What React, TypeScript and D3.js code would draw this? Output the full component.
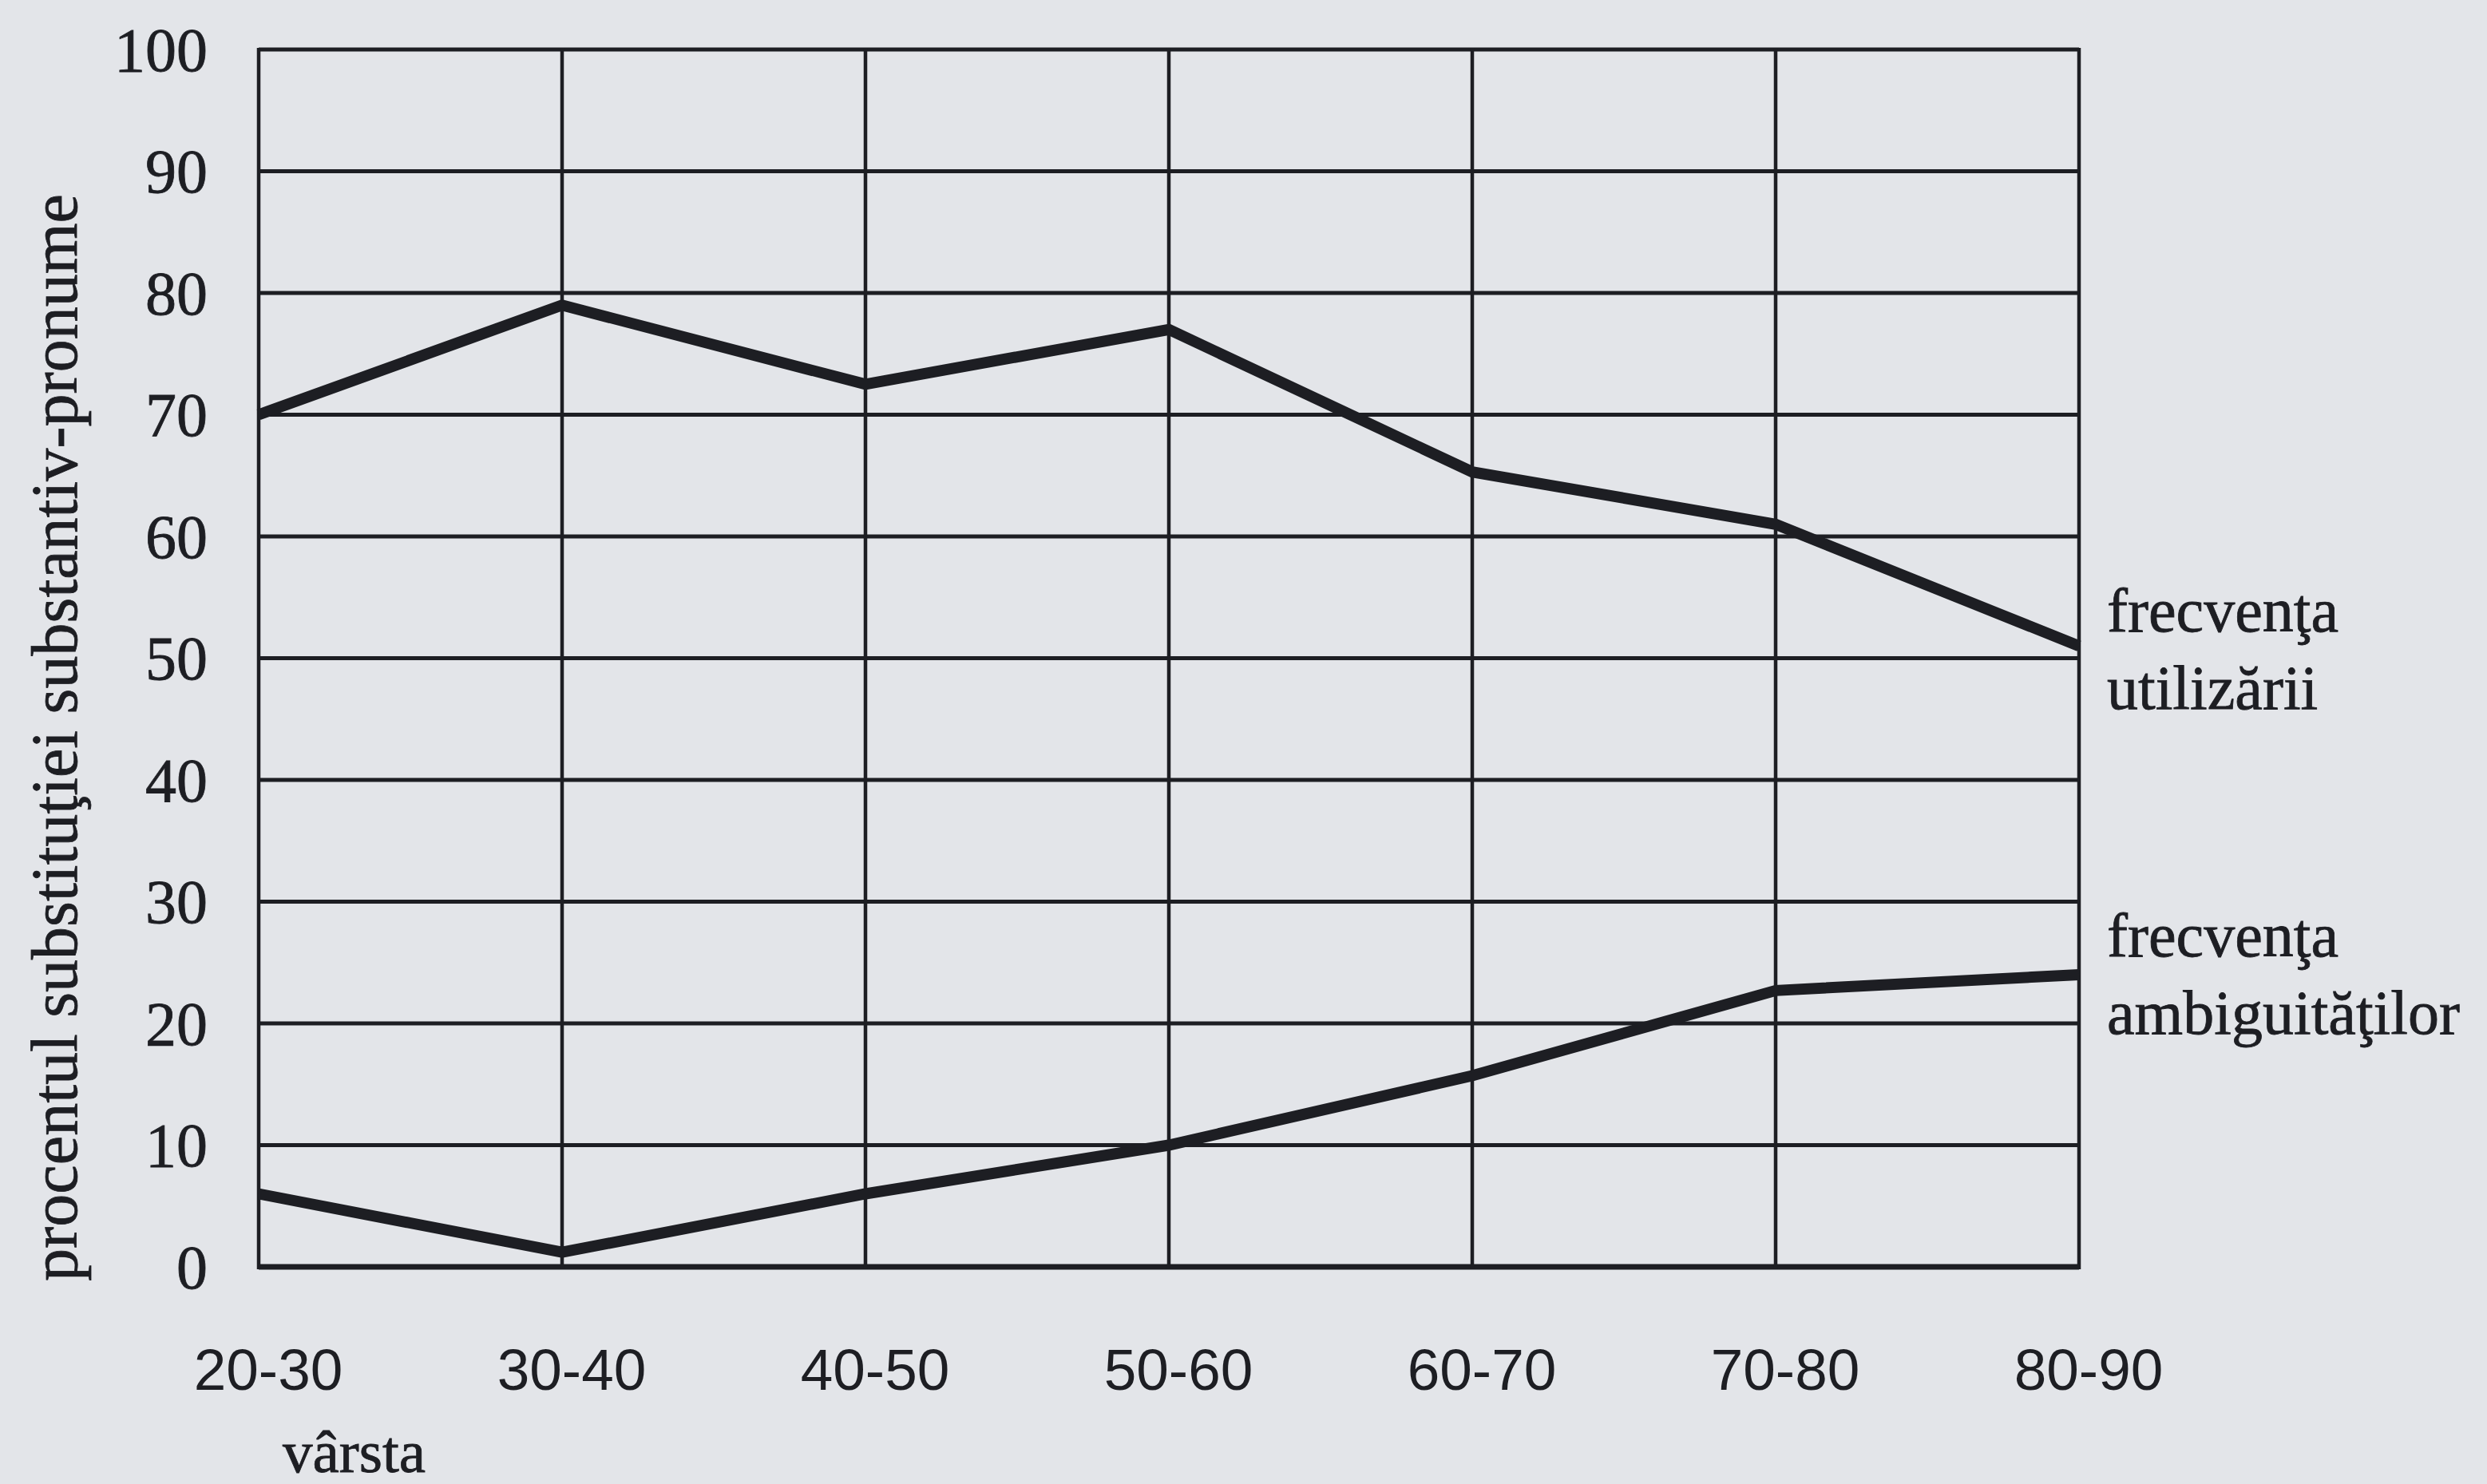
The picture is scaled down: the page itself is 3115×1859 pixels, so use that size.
import React from "react";
import * as d3 from "d3";

const categories = ["20-30", "30-40", "40-50", "50-60", "60-70", "70-80", "80-90"];
const utilizare = [70, 79, 72.5, 77, 65.3, 61, 51];
const ambiguitati = [6, 1.2, 6, 10, 15.7, 22.7, 24];
const yTicks = [0, 10, 20, 30, 40, 50, 60, 70, 80, 90, 100];
const yTitle = "procentul substituţiei substantiv-pronume";
const xTitle = "vârsta";
const seriesLabels = [
  ["frecvenţa", "utilizării"],
  ["frecvenţa", "ambiguităţilor"],
];

const W = 3115;
const H = 1859;
const INK = "#1d1e23";
const PAPER = "#e3e5e9";
const SERIF = "'Liberation Serif', 'Times New Roman', serif";
const SANS = "'Liberation Sans Narrow', 'Liberation Sans', Arial, sans-serif";

export default function App() {
  const x = d3.scalePoint<string>().domain(categories).range([324, 2604]);
  const y = d3.scaleLinear().domain([0, 100]).range([1587, 62]);
  const line = d3
    .line<number>()
    .x((_, i) => x(categories[i]) as number)
    .y((d) => y(d));

  const left = x(categories[0]) as number;
  const right = x(categories[categories.length - 1]) as number;

  return (
    <svg
      width={W}
      height={H}
      style={{ position: "absolute", left: 0, top: 0, display: "block" }}
    >
      <rect x={0} y={0} width={W} height={H} fill={PAPER} />
      {/* horizontal gridlines */}
      {yTicks.map((t) => (
        <line
          key={"h" + t}
          x1={left}
          x2={right}
          y1={y(t)}
          y2={y(t)}
          stroke={INK}
          strokeWidth={t === 0 ? 7 : 5}
        />
      ))}
      {/* vertical gridlines */}
      {categories.map((c) => (
        <line
          key={"v" + c}
          x1={x(c)}
          x2={x(c)}
          y1={y(100) - 2}
          y2={y(0) + 3}
          stroke={INK}
          strokeWidth={4.5}
        />
      ))}
      {/* data lines */}
      <path
        d={line(utilizare) || ""}
        fill="none"
        stroke={INK}
        strokeWidth={14}
        strokeLinejoin="miter"
      />
      <path
        d={line(ambiguitati) || ""}
        fill="none"
        stroke={INK}
        strokeWidth={14}
        strokeLinejoin="miter"
      />
      {/* y tick labels */}
      {yTicks.map((t) => (
        <text
          key={"yt" + t}
          x={260}
          y={y(t)}
          dy="0.34em"
          textAnchor="end"
          fontFamily={SERIF}
          fontSize={78}
          fill={INK}
          stroke={INK}
          strokeWidth={0.8}
        >
          {t}
        </text>
      ))}
      {/* x tick labels */}
      {categories.map((c) => (
        <text
          key={"xt" + c}
          x={(x(c) as number) + 12}
          y={1741}
          textAnchor="middle"
          fontFamily={SANS}
          fontSize={73}
          fill={INK}
        >
          {c}
        </text>
      ))}
      {/* axis titles */}
      <text
        transform={`translate(96, ${924}) rotate(-90)`}
        textAnchor="middle"
        fontFamily={SERIF}
        fontSize={82}
        fill={INK}
        stroke={INK}
        strokeWidth={0.8}
      >
        {yTitle}
      </text>
      <text
        x={354}
        y={1844}
        fontFamily={SERIF}
        fontSize={75}
        fill={INK}
        stroke={INK}
        strokeWidth={0.8}
      >
        {xTitle}
      </text>
      {/* series labels */}
      {seriesLabels.map((lines, si) => (
        <text
          key={"sl" + si}
          x={2639}
          y={si === 0 ? 791 : 1198}
          fontFamily={SERIF}
          fontSize={78}
          fill={INK}
          stroke={INK}
          strokeWidth={0.8}
        >
          {lines.map((l, li) => (
            <tspan key={li} x={2639} dy={li === 0 ? 0 : 97}>
              {l}
            </tspan>
          ))}
        </text>
      ))}
    </svg>
  );
}
